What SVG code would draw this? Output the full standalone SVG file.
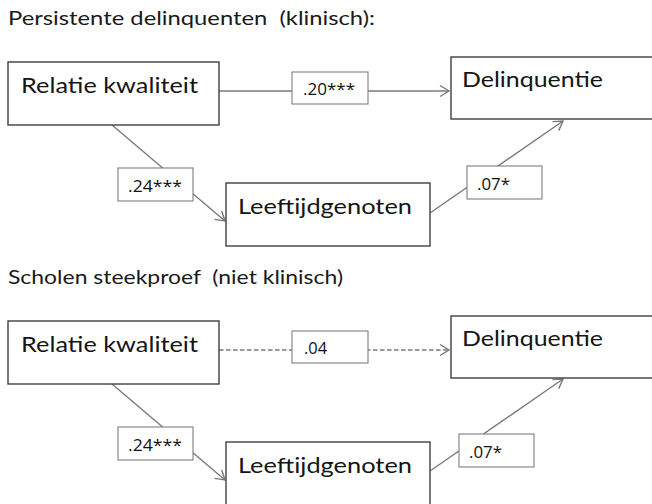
<svg xmlns="http://www.w3.org/2000/svg" width="652" height="504" viewBox="0 0 652 504">
<style>
  .bg{fill:#ffffff}
  .node{fill:#ffffff;stroke:#3f3f3f;stroke-width:1.4}
  .lbl{fill:#ffffff;stroke:#7f7f7f;stroke-width:1.1}
  .conn{fill:none;stroke:#7a7a7a;stroke-width:1.4}
  .dash{stroke-dasharray:4.5 2.5}
  .title{font-family:Lato,"Liberation Sans",sans-serif;font-size:20px;fill:#1a1a1a;white-space:pre}
  .ntext{font-family:Lato,"Liberation Sans",sans-serif;font-size:22px;fill:#151515}
  .ltext{font-family:"Open Sans","Liberation Sans",sans-serif;font-size:16px;fill:#111111}
</style>
<defs>
  <marker id="arr" markerUnits="userSpaceOnUse" markerWidth="14" markerHeight="14" viewBox="-11 -7 13 14" refX="0" refY="0" orient="auto">
    <path d="M-9,-5.5 L0,0 L-9,5.5" fill="none" stroke="#7a7a7a" stroke-width="1.4"/>
  </marker>
</defs>
<rect class="bg" x="0" y="0" width="652" height="504"/>

<text class="title" x="8" y="25" textLength="367" lengthAdjust="spacingAndGlyphs" xml:space="preserve">Persistente delinquenten  (klinisch):</text>
<text class="title" x="8" y="284" textLength="335" lengthAdjust="spacingAndGlyphs" xml:space="preserve">Scholen steekproef  (niet klinisch)</text>

<g id="connectors">
  <path class="conn" d="M219,91 H449" marker-end="url(#arr)"/>
  <path class="conn" d="M112,125 L225,221" marker-end="url(#arr)"/>
  <path class="conn" d="M430,213 L563,121" marker-end="url(#arr)"/>
  <path class="conn dash" d="M219,350 H449" marker-end="url(#arr)"/>
  <path class="conn" d="M112,384 L225,480" marker-end="url(#arr)"/>
  <path class="conn" d="M430,471 L563,379" marker-end="url(#arr)"/>
</g>

<g id="labels">
  <g id="lbl-20">
    <rect class="lbl" x="292" y="72" width="76" height="32"/>
    <text class="ltext" x="303" y="95" textLength="52" lengthAdjust="spacingAndGlyphs">.20***</text>
  </g>
  <g id="lbl-24a">
    <rect class="lbl" x="118" y="168" width="75" height="33"/>
    <text class="ltext" x="128" y="192" textLength="54" lengthAdjust="spacingAndGlyphs">.24***</text>
  </g>
  <g id="lbl-07a">
    <rect class="lbl" x="467" y="166" width="75" height="33"/>
    <text class="ltext" x="477" y="190" textLength="33" lengthAdjust="spacingAndGlyphs">.07*</text>
  </g>
  <g id="lbl-04">
    <rect class="lbl" x="292" y="331" width="76" height="32"/>
    <text class="ltext" x="304" y="354" textLength="23" lengthAdjust="spacingAndGlyphs">.04</text>
  </g>
  <g id="lbl-24b">
    <rect class="lbl" x="118" y="427" width="75" height="33"/>
    <text class="ltext" x="128" y="451" textLength="54" lengthAdjust="spacingAndGlyphs">.24***</text>
  </g>
  <g id="lbl-07b">
    <rect class="lbl" x="459" y="434" width="75" height="33"/>
    <text class="ltext" x="469" y="458" textLength="33" lengthAdjust="spacingAndGlyphs">.07*</text>
  </g>
</g>

<g id="relatie1">
  <rect class="node" x="8" y="62" width="211" height="63"/>
  <text class="ntext" x="21" y="93" textLength="177" lengthAdjust="spacingAndGlyphs">Relatie kwaliteit</text>
</g>
<g id="delinquentie1">
  <rect class="node" x="451" y="57" width="210" height="62"/>
  <text class="ntext" x="462" y="87" textLength="141" lengthAdjust="spacingAndGlyphs">Delinquentie</text>
</g>
<g id="leeftijd1">
  <rect class="node" x="226" y="183" width="204" height="63"/>
  <text class="ntext" x="238" y="214" textLength="174" lengthAdjust="spacingAndGlyphs">Leeftijdgenoten</text>
</g>

<g id="relatie2">
  <rect class="node" x="8" y="321" width="211" height="63"/>
  <text class="ntext" x="21" y="352" textLength="177" lengthAdjust="spacingAndGlyphs">Relatie kwaliteit</text>
</g>
<g id="delinquentie2">
  <rect class="node" x="451" y="316" width="210" height="62"/>
  <text class="ntext" x="462" y="346" textLength="141" lengthAdjust="spacingAndGlyphs">Delinquentie</text>
</g>
<g id="leeftijd2">
  <rect class="node" x="226" y="442" width="204" height="70"/>
  <text class="ntext" x="238" y="473" textLength="174" lengthAdjust="spacingAndGlyphs">Leeftijdgenoten</text>
</g>
</svg>
